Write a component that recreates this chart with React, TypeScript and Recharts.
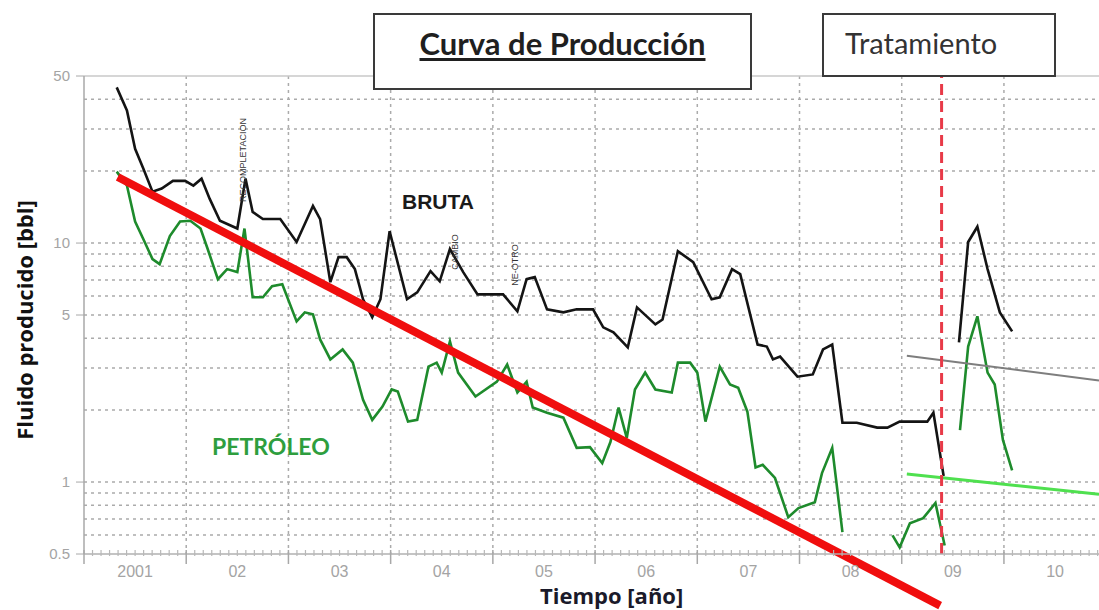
import React from "react";
import { LineChart, Line, XAxis, YAxis, ReferenceLine, CartesianGrid } from "recharts";

// ---- categories / ticks ----
const yearLabels = ["2001", "02", "03", "04", "05", "06", "07", "08", "09", "10"];
const yearBoundaries = [2002, 2003, 2004, 2005, 2006, 2007, 2008, 2009, 2010];
const monthTicks = Array.from({ length: 120 }, (_, i) => 2001 + i / 12);
const yTickValues = [0.5, 1, 5, 10, 50];
const yGridValues = [0.6, 0.7, 0.8, 0.9, 1, 2, 3, 4, 5, 6, 7, 8, 9, 10, 20, 30, 40];
const treatmentYear = 2009.39;

// ---- series: BRUTA (gross fluid) ----
const bruta = [
  { t: 2001.32, v: 44.8 }, { t: 2001.42, v: 35.9 }, { t: 2001.5, v: 24.8 }, { t: 2001.58, v: 20.5 },
  { t: 2001.67, v: 16.4 }, { t: 2001.76, v: 16.9 }, { t: 2001.87, v: 18.2 }, { t: 2001.99, v: 18.2 },
  { t: 2002.07, v: 17.4 }, { t: 2002.15, v: 18.6 }, { t: 2002.23, v: 15.3 }, { t: 2002.33, v: 12.4 },
  { t: 2002.5, v: 11.5 }, { t: 2002.58, v: 18.6 }, { t: 2002.65, v: 13.5 }, { t: 2002.75, v: 12.6 },
  { t: 2002.92, v: 12.6 }, { t: 2003.08, v: 10.1 }, { t: 2003.24, v: 14.3 }, { t: 2003.31, v: 12.6 },
  { t: 2003.41, v: 6.86 }, { t: 2003.49, v: 8.73 }, { t: 2003.57, v: 8.73 }, { t: 2003.65, v: 7.78 },
  { t: 2003.73, v: 5.82 }, { t: 2003.82, v: 4.89 }, { t: 2003.9, v: 5.82 }, { t: 2003.99, v: 11.2 },
  { t: 2004.16, v: 5.82 }, { t: 2004.26, v: 6.22 }, { t: 2004.39, v: 7.63 }, { t: 2004.48, v: 6.92 },
  { t: 2004.58, v: 9.44 }, { t: 2004.71, v: 7.56 }, { t: 2004.85, v: 6.1 }, { t: 2005.1, v: 6.1 },
  { t: 2005.24, v: 5.18 }, { t: 2005.33, v: 7.06 }, { t: 2005.41, v: 7.2 }, { t: 2005.53, v: 5.28 },
  { t: 2005.69, v: 5.13 }, { t: 2005.82, v: 5.28 }, { t: 2005.98, v: 5.28 }, { t: 2006.08, v: 4.44 },
  { t: 2006.18, v: 4.23 }, { t: 2006.32, v: 3.66 }, { t: 2006.41, v: 5.38 }, { t: 2006.59, v: 4.57 },
  { t: 2006.66, v: 4.79 }, { t: 2006.81, v: 9.25 }, { t: 2006.96, v: 8.32 }, { t: 2007.14, v: 5.82 },
  { t: 2007.22, v: 5.93 }, { t: 2007.34, v: 7.78 }, { t: 2007.42, v: 7.41 }, { t: 2007.59, v: 3.76 },
  { t: 2007.68, v: 3.69 }, { t: 2007.74, v: 3.26 }, { t: 2007.81, v: 3.35 }, { t: 2007.98, v: 2.76 },
  { t: 2008.13, v: 2.82 }, { t: 2008.23, v: 3.59 }, { t: 2008.32, v: 3.76 }, { t: 2008.42, v: 1.77 },
  { t: 2008.56, v: 1.77 }, { t: 2008.76, v: 1.69 }, { t: 2008.86, v: 1.69 }, { t: 2008.98, v: 1.79 },
  { t: 2009.25, v: 1.79 }, { t: 2009.31, v: 1.95 }, { t: 2009.41, v: 1.06 },
  { t: 2009.48, v: null },
  { t: 2009.56, v: 3.84 }, { t: 2009.65, v: 10.1 }, { t: 2009.74, v: 11.7 }, { t: 2009.84, v: 7.78 },
  { t: 2009.96, v: 5.13 }, { t: 2010.08, v: 4.27 },
];

// ---- series: PETRÓLEO (oil) ----
const petroleo = [
  { t: 2001.32, v: 19.9 }, { t: 2001.42, v: 17.4 }, { t: 2001.5, v: 12.3 }, { t: 2001.58, v: 10.4 },
  { t: 2001.67, v: 8.57 }, { t: 2001.74, v: 8.16 }, { t: 2001.84, v: 10.7 }, { t: 2001.94, v: 12.3 },
  { t: 2002.04, v: 12.4 }, { t: 2002.14, v: 11.5 }, { t: 2002.21, v: 9.44 }, { t: 2002.31, v: 7.06 },
  { t: 2002.4, v: 7.78 }, { t: 2002.5, v: 7.56 }, { t: 2002.57, v: 11.5 }, { t: 2002.65, v: 5.93 },
  { t: 2002.75, v: 5.93 }, { t: 2002.84, v: 6.6 }, { t: 2002.94, v: 6.72 }, { t: 2003.08, v: 4.7 },
  { t: 2003.16, v: 5.13 }, { t: 2003.24, v: 5.03 }, { t: 2003.31, v: 3.95 }, { t: 2003.41, v: 3.26 },
  { t: 2003.53, v: 3.59 }, { t: 2003.63, v: 3.16 }, { t: 2003.73, v: 2.21 }, { t: 2003.82, v: 1.82 },
  { t: 2003.92, v: 2.07 }, { t: 2004.01, v: 2.44 }, { t: 2004.07, v: 2.39 }, { t: 2004.17, v: 1.79 },
  { t: 2004.26, v: 1.82 }, { t: 2004.37, v: 3.04 }, { t: 2004.45, v: 3.16 }, { t: 2004.5, v: 2.87 },
  { t: 2004.58, v: 3.88 }, { t: 2004.66, v: 2.87 }, { t: 2004.83, v: 2.28 }, { t: 2005.04, v: 2.63 },
  { t: 2005.14, v: 3.1 }, { t: 2005.24, v: 2.37 }, { t: 2005.33, v: 2.63 }, { t: 2005.39, v: 2.05 },
  { t: 2005.53, v: 1.95 }, { t: 2005.69, v: 1.86 }, { t: 2005.82, v: 1.39 }, { t: 2005.95, v: 1.4 },
  { t: 2006.07, v: 1.2 }, { t: 2006.15, v: 1.47 }, { t: 2006.23, v: 2.05 }, { t: 2006.31, v: 1.53 },
  { t: 2006.39, v: 2.44 }, { t: 2006.49, v: 2.87 }, { t: 2006.59, v: 2.44 }, { t: 2006.75, v: 2.37 },
  { t: 2006.81, v: 3.16 }, { t: 2006.93, v: 3.16 }, { t: 2007.0, v: 2.87 }, { t: 2007.08, v: 1.79 },
  { t: 2007.22, v: 3.04 }, { t: 2007.32, v: 2.56 }, { t: 2007.4, v: 2.48 }, { t: 2007.49, v: 1.97 },
  { t: 2007.57, v: 1.15 }, { t: 2007.64, v: 1.18 }, { t: 2007.76, v: 1.04 }, { t: 2007.89, v: 0.713 },
  { t: 2007.99, v: 0.778 }, { t: 2008.15, v: 0.824 }, { t: 2008.22, v: 1.09 }, { t: 2008.32, v: 1.39 },
  { t: 2008.42, v: 0.617 },
  { t: 2008.6, v: null },
  { t: 2008.91, v: 0.598 }, { t: 2008.98, v: 0.533 }, { t: 2009.08, v: 0.673 }, { t: 2009.21, v: 0.706 },
  { t: 2009.33, v: 0.817 }, { t: 2009.42, v: 0.543 },
  { t: 2009.5, v: null },
  { t: 2009.57, v: 1.65 }, { t: 2009.65, v: 3.69 }, { t: 2009.74, v: 4.94 }, { t: 2009.84, v: 2.87 },
  { t: 2009.91, v: 2.56 }, { t: 2009.99, v: 1.5 }, { t: 2010.08, v: 1.12 },
];

// ---- trend lines ----
const declineTrend = [{ t: 2001.33, v: 18.9 }, { t: 2009.376, v: 0.304 }];
const grossTrend = [{ t: 2009.05, v: 3.38 }, { t: 2010.93, v: 2.66 }];
const oilTrend = [{ t: 2009.05, v: 1.08 }, { t: 2010.93, v: 0.89 }];

function TimeTick(props: any) {
  const { x, y, payload } = props;
  const m = Math.round((payload.value - 2001) * 12);
  const mo = ((m % 12) + 12) % 12;
  const yr = Math.floor(m / 12);
  if (mo === 0) {
    return <line x1={x} x2={x} y1={y - 4} y2={y + 10} stroke="#a8a8a8" strokeWidth={1.5} />;
  }
  return (
    <g>
      <line x1={x} x2={x} y1={y - 4} y2={y + 2} stroke="#b8b8b8" strokeWidth={1.2} />
      {mo === 6 && (
        <text x={x} y={y + 23} textAnchor="middle" fill="#a4a4a4" fontSize={16}
          fontFamily="'Liberation Sans', Arial, sans-serif">
          {yearLabels[yr]}
        </text>
      )}
    </g>
  );
}

const abs = (s: React.CSSProperties): React.CSSProperties => ({ position: "absolute", whiteSpace: "nowrap", ...s });

export default function App() {
  return (
    <div style={{ position: "absolute", left: 0, top: 0, width: 1099, height: 610, background: "#fff", overflow: "hidden" }}>
      <LineChart width={1099} height={610} margin={{ top: 76, right: 0, bottom: 26, left: 24 }}>
        <CartesianGrid
          horizontalValues={yGridValues}
          verticalValues={yearBoundaries}
          stroke="#ababab"
          strokeWidth={1.5}
          strokeDasharray="3 4"
        />
        <XAxis
          dataKey="t"
          type="number"
          domain={[2001, 2010.93]}
          ticks={monthTicks}
          interval={0}
          tickSize={0}
          tickMargin={0}
          tickLine={false}
          tick={<TimeTick />}
          axisLine={{ stroke: "#b0b0b0", strokeWidth: 1.5 }}
          height={30}
          allowDataOverflow
        />
        <YAxis
          type="number"
          scale="log"
          domain={[0.5, 50]}
          ticks={yTickValues}
          interval={0}
          tickSize={8}
          tickMargin={6}
          tickFormatter={(v: number) => String(v)}
          tick={{ fill: "#a4a4a4", fontSize: 15, fontFamily: "'Liberation Sans', Arial, sans-serif" }}
          tickLine={{ stroke: "#a8a8a8" }}
          axisLine={{ stroke: "#a8a8a8", strokeWidth: 1.5 }}
          width={60}
        />
        <ReferenceLine y={50} stroke="#c8c8c8" strokeWidth={1.5} />
        <Line data={bruta} dataKey="v" stroke="#141414" strokeWidth={2.6} dot={false} isAnimationActive={false} />
        <Line data={petroleo} dataKey="v" stroke="#1e8b2c" strokeWidth={2.6} dot={false} isAnimationActive={false} />
        <Line data={grossTrend} dataKey="v" stroke="#7e7e7e" strokeWidth={2} dot={false} isAnimationActive={false} />
        <Line data={oilTrend} dataKey="v" stroke="#4fe04f" strokeWidth={3} dot={false} isAnimationActive={false} />
        <ReferenceLine
          segment={[{ x: declineTrend[0].t, y: declineTrend[0].v }, { x: declineTrend[1].t, y: declineTrend[1].v }]}
          stroke="#f00e0e"
          strokeWidth={8}
          ifOverflow="visible"
        />
        <ReferenceLine x={treatmentYear} stroke="#e83a48" strokeWidth={3} strokeDasharray="11 6" />
      </LineChart>

      {/* annotations */}
      <div style={abs({ left: 402, top: 191, fontFamily: "'Liberation Sans', Arial, sans-serif", fontWeight: 700, fontSize: 21, lineHeight: 1, color: "#1a1a1a" })}>BRUTA</div>
      <div style={abs({ left: 212, top: 435, fontFamily: "Lato, sans-serif", fontWeight: 700, fontSize: 23, lineHeight: 1, color: "#2e9e3e" })}>PETRÓLEO</div>
      <div style={abs({ left: 243, top: 160, transform: "translate(-50%,-50%) rotate(-90deg)", fontFamily: "'Liberation Sans', Arial, sans-serif", fontSize: 9, color: "#333" })}>RECOMPLETACION</div>
      <div style={abs({ left: 455, top: 252, transform: "translate(-50%,-50%) rotate(-90deg)", fontFamily: "'Liberation Sans', Arial, sans-serif", fontSize: 9, color: "#333" })}>CAMBIO</div>
      <div style={abs({ left: 515, top: 265, transform: "translate(-50%,-50%) rotate(-90deg)", fontFamily: "'Liberation Sans', Arial, sans-serif", fontSize: 9, color: "#333" })}>NE-OTRO</div>

      {/* title boxes */}
      <div style={abs({ left: 373, top: 13, width: 379, height: 77, boxSizing: "border-box", border: "2px solid #3a3a3a", background: "#fff" })}>
        <div style={abs({ left: 0, right: 0, top: 10, textAlign: "center", fontFamily: "Lato, sans-serif", fontWeight: 700, fontSize: 31, lineHeight: 1.2, color: "#1f1f1f", textDecoration: "underline", textUnderlineOffset: 3 })}>
          Curva de Producción
        </div>
      </div>
      <div style={abs({ left: 822, top: 13, width: 234, height: 64, boxSizing: "border-box", border: "2px solid #3a3a3a", background: "#fff" })}>
        <div style={abs({ left: 21, top: 11, fontFamily: "Lato, sans-serif", fontWeight: 400, fontSize: 29, lineHeight: 1.2, color: "#333" })}>
          Tratamiento
        </div>
      </div>

      {/* axis titles */}
      <div style={abs({ left: 24, top: 320, transform: "translate(-50%,-50%) rotate(-90deg)", fontFamily: "'Open Sans', sans-serif", fontWeight: 700, fontSize: 22, color: "#111" })}>
        Fluido producido [bbl]
      </div>
      <div style={abs({ left: 540, top: 584, fontFamily: "'Open Sans', sans-serif", fontWeight: 700, fontSize: 22, lineHeight: 1, color: "#1a1a2a" })}>
        Tiempo [año]
      </div>
    </div>
  );
}
